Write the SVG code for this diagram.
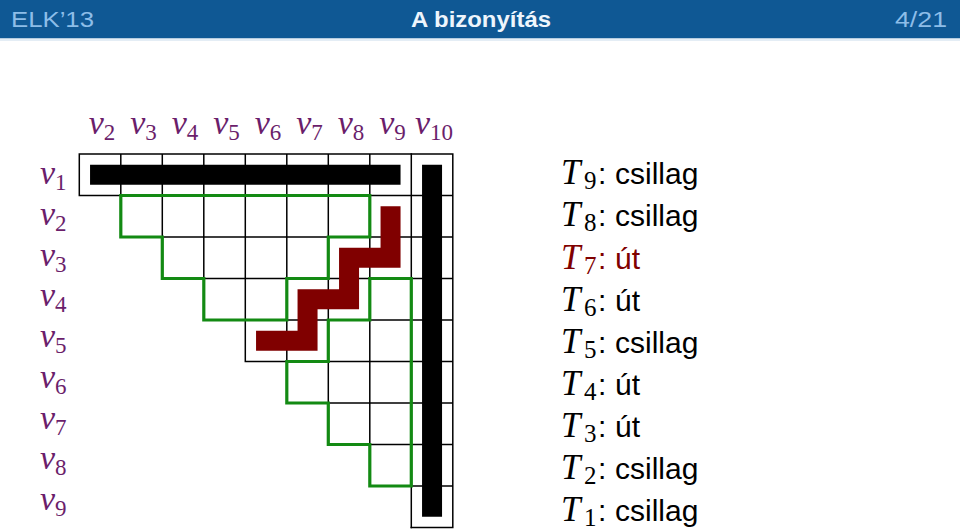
<svg xmlns="http://www.w3.org/2000/svg" width="960" height="532" viewBox="0 0 960 532">
<style>
.hdr{font-family:"Liberation Sans",Arial,sans-serif;font-size:22px}
.vl{font-family:"Liberation Serif","Times New Roman",serif;font-style:italic;font-size:34px;fill:#6b1e6b}
.sub{font-style:normal;font-size:23px}
.tsub{font-style:normal;font-size:25px}
.tl{font-family:"Liberation Serif","Times New Roman",serif;font-style:italic;font-size:35px;fill:#000}
.sans{font-family:"Liberation Sans",Arial,sans-serif;font-size:30px;fill:#000}
.red{fill:#800000}
.grid{fill:none;stroke:#000;stroke-width:1.5;stroke-linecap:square}
.star{fill:none;stroke:#138a13;stroke-width:3.2;stroke-linejoin:miter}
.bar{fill:none;stroke-width:20;stroke-linecap:square;stroke-linejoin:miter}
</style>
<g id="header">
<rect x="0" y="0" width="960" height="38.5" fill="#0f5894"/>
<rect x="0" y="38.5" width="960" height="2.5" fill="#e4edf5"/>
<text class="hdr" x="11" y="27" fill="#8dbde8" textLength="83" lengthAdjust="spacingAndGlyphs">ELK’13</text>
<text class="hdr" x="411" y="27" fill="#eef5fc" font-weight="bold" textLength="140" lengthAdjust="spacingAndGlyphs">A bizonyítás</text>
<text class="hdr" x="895" y="27" fill="#8dbde8" textLength="52" lengthAdjust="spacingAndGlyphs">4/21</text>
</g>
<g id="grid">
<path class="grid" d="M79.3 154H452.8M79.3 195.5H452.8M120.8 237H452.8M162.3 278.5H452.8M203.8 320H452.8M245.3 361.5H452.8M286.8 403H452.8M328.3 444.5H452.8M369.8 486H452.8M411.3 527.5H452.8M79.3 154V195.5M120.8 154V237M162.3 154V278.5M203.8 154V320M245.3 154V361.5M286.8 154V403M328.3 154V444.5M369.8 154V486M452.8 154V527.5"/>
<path class="grid" stroke-width="2.6" d="M411.3 154V527.5"/>
</g>
<g id="connectors">
<path id="star-a" class="star" d="M120.8 195.5H369.8V237H328.3V278.5H286.8V320H203.8V278.5H162.3V237H120.8Z"/>
<path id="star-b" class="star" d="M369.8 278.5H411.3V486H369.8V444.5H328.3V403H286.8V361.5H328.3V320H369.8Z"/>
<path id="path-t7" class="bar" stroke="#800000" d="M390.55 216.25V257.75H349.05V299.25H307.55V340.75H266.05"/>
<path id="bar-row" class="bar" stroke="#000" d="M100.05 174.75H390.55"/>
<path id="bar-col" class="bar" stroke="#000" d="M432.05 174.75V506.75"/>
</g>
<g id="col-labels" class="vl" text-anchor="middle">
<text x="102" y="134">v<tspan class="sub" dy="6">2</tspan></text>
<text x="143.5" y="134">v<tspan class="sub" dy="6">3</tspan></text>
<text x="185" y="134">v<tspan class="sub" dy="6">4</tspan></text>
<text x="226.5" y="134">v<tspan class="sub" dy="6">5</tspan></text>
<text x="268" y="134">v<tspan class="sub" dy="6">6</tspan></text>
<text x="309.5" y="134">v<tspan class="sub" dy="6">7</tspan></text>
<text x="351" y="134">v<tspan class="sub" dy="6">8</tspan></text>
<text x="392.5" y="134">v<tspan class="sub" dy="6">9</tspan></text>
<text x="434" y="134">v<tspan class="sub" dy="6">10</tspan></text>
</g>
<g id="row-labels" class="vl">
<text x="40" y="184.3">v<tspan class="sub" dy="6">1</tspan></text>
<text x="40" y="225">v<tspan class="sub" dy="6">2</tspan></text>
<text x="40" y="265.7">v<tspan class="sub" dy="6">3</tspan></text>
<text x="40" y="306.4">v<tspan class="sub" dy="6">4</tspan></text>
<text x="40" y="347.1">v<tspan class="sub" dy="6">5</tspan></text>
<text x="40" y="387.8">v<tspan class="sub" dy="6">6</tspan></text>
<text x="40" y="428.5">v<tspan class="sub" dy="6">7</tspan></text>
<text x="40" y="469.2">v<tspan class="sub" dy="6">8</tspan></text>
<text x="40" y="509.9">v<tspan class="sub" dy="6">9</tspan></text>
</g>
<g id="legend">
<g id="t9"><text class="tl" x="561" y="184.3">T<tspan class="tsub" x="584" dy="5">9</tspan></text><text class="sans" x="598" y="184.3">:</text><text class="sans" x="615" y="184.3">csillag</text></g>
<g id="t8"><text class="tl" x="561" y="226.4">T<tspan class="tsub" x="584" dy="5">8</tspan></text><text class="sans" x="598" y="226.4">:</text><text class="sans" x="615" y="226.4">csillag</text></g>
<g id="t7"><text class="tl red" x="561" y="268.5">T<tspan class="tsub" x="584" dy="5">7</tspan></text><text class="sans red" x="598" y="268.5">:</text><text class="sans red" x="615" y="268.5">út</text></g>
<g id="t6"><text class="tl" x="561" y="310.6">T<tspan class="tsub" x="584" dy="5">6</tspan></text><text class="sans" x="598" y="310.6">:</text><text class="sans" x="615" y="310.6">út</text></g>
<g id="t5"><text class="tl" x="561" y="352.7">T<tspan class="tsub" x="584" dy="5">5</tspan></text><text class="sans" x="598" y="352.7">:</text><text class="sans" x="615" y="352.7">csillag</text></g>
<g id="t4"><text class="tl" x="561" y="394.8">T<tspan class="tsub" x="584" dy="5">4</tspan></text><text class="sans" x="598" y="394.8">:</text><text class="sans" x="615" y="394.8">út</text></g>
<g id="t3"><text class="tl" x="561" y="436.9">T<tspan class="tsub" x="584" dy="5">3</tspan></text><text class="sans" x="598" y="436.9">:</text><text class="sans" x="615" y="436.9">út</text></g>
<g id="t2"><text class="tl" x="561" y="479">T<tspan class="tsub" x="584" dy="5">2</tspan></text><text class="sans" x="598" y="479">:</text><text class="sans" x="615" y="479">csillag</text></g>
<g id="t1"><text class="tl" x="561" y="521.1">T<tspan class="tsub" x="584" dy="5">1</tspan></text><text class="sans" x="598" y="521.1">:</text><text class="sans" x="615" y="521.1">csillag</text></g>
</g>
</svg>
